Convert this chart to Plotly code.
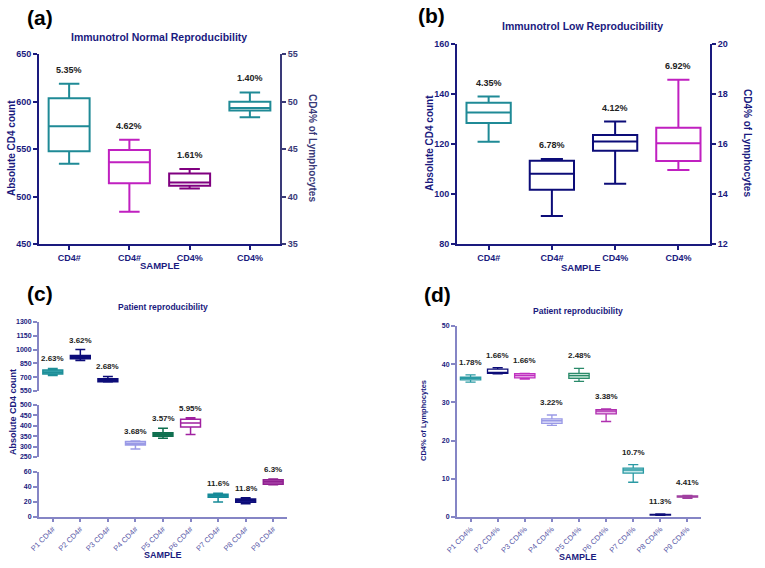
import plotly.graph_objects as go

# ---------------- data ----------------
# Panel (a): Immunotrol Normal
a_labels = ["CD4#", "CD4#", "CD4%", "CD4%"]
a_lower = [534.5, 484.0, 40.85, 48.33]
a_q1 = [547.7, 513.9, 41.14, 49.06]
a_median = [574.0, 536.0, 41.48, 49.32]
a_q3 = [603.4, 549.0, 42.43, 49.98]
a_upper = [618.7, 559.8, 42.90, 50.96]
a_cv = ["5.35%", "4.62%", "1.61%", "1.40%"]

# Panel (b): Immunotrol Low
b_labels = ["CD4#", "CD4#", "CD4%", "CD4%"]
b_lower = [120.9, 91.2, 14.41, 14.96]
b_q1 = [128.4, 101.7, 15.73, 15.32]
b_median = [132.6, 108.1, 16.10, 16.03]
b_q3 = [136.5, 113.3, 16.36, 16.65]
b_upper = [139.0, 114.0, 16.90, 18.57]
b_cv = ["4.35%", "6.78%", "4.12%", "6.92%"]

# Panel (c): Patient reproducibility, absolute CD4 count
c_labels = ["P1 CD4#", "P2 CD4#", "P3 CD4#", "P4 CD4#", "P5 CD4#",
            "P6 CD4#", "P7 CD4#", "P8 CD4#", "P9 CD4#"]
c_lower = [719, 882, 647, 289, 340, 358, 20.1, 17.5, 42.9]
c_q1 = [734, 900, 651, 308, 350, 394, 26.3, 19.7, 43.8]
c_median = [755, 918, 669, 314, 358, 413, 28.5, 22.3, 46.9]
c_q3 = [777, 936, 683, 324, 367, 431, 30.2, 24.1, 49.5]
c_upper = [795, 1001, 708, 327, 388, 439, 31.5, 25.8, 50.8]
c_cv = ["2.63%", "3.62%", "2.68%", "3.68%", "3.57%", "5.95%", "11.6%", "11.8%", "6.3%"]

# Panel (d): Patient reproducibility, CD4%
d_labels = ["P1 CD4%", "P2 CD4%", "P3 CD4%", "P4 CD4%", "P5 CD4%",
            "P6 CD4%", "P7 CD4%", "P8 CD4%", "P9 CD4%"]
d_lower = [35.3, 37.5, 36.1, 24.0, 35.5, 25.0, 9.1, 0.45, 4.9]
d_q1 = [35.9, 37.6, 36.4, 24.5, 36.3, 27.0, 11.5, 0.5, 5.2]
d_median = [36.3, 37.8, 37.0, 25.2, 37.0, 27.7, 12.3, 0.6, 5.4]
d_q3 = [36.6, 38.7, 37.5, 25.7, 37.6, 28.1, 12.8, 0.7, 5.5]
d_upper = [37.2, 39.1, 37.6, 26.7, 38.9, 28.3, 13.7, 0.8, 5.65]
d_cv = ["1.78%", "1.66%", "1.66%", "3.22%", "2.48%", "3.38%", "10.7%", "11.3%", "4.41%"]

# ---------------- styles ----------------
W, H = 765, 568
FONT = "Liberation Sans"
NAVY = "#1a1a7e"
LAV = "#8585c5"
TEAL = "#1f8a96"
MAG = "#c020c0"
PURP = "#800080"
DNAVY = "#0c0c78"


def px(x):
    return x / W


def py(y):
    return 1 - y / H


fig = go.Figure()


def add_box(xa, ya, pos, lo, q1, me, q3, up, lc, fc, width, lw):
    fig.add_trace(go.Box(
        x=[pos], lowerfence=[lo], q1=[q1], median=[me], q3=[q3], upperfence=[up],
        xaxis=xa, yaxis=ya, line=dict(color=lc, width=lw), fillcolor=fc,
        width=width, whiskerwidth=0.5, boxpoints=False, showlegend=False,
        hoverinfo="skip"))


def add_cv(xa, ya, pos, y, text, size, shift):
    fig.add_annotation(x=pos, y=y, xref=xa, yref=ya, text=text, showarrow=False,
                       yshift=shift, yanchor="bottom",
                       font=dict(family=FONT, size=size, color="#222222", weight="bold"))


# Panel (a)
a_axes = ["y", "y", "y2", "y2"]
a_colors = [(TEAL, "white"), (MAG, "white"), (PURP, "white"), (TEAL, "white")]
for i in range(4):
    add_box("x", a_axes[i], i, a_lower[i], a_q1[i], a_median[i], a_q3[i], a_upper[i],
            a_colors[i][0], a_colors[i][1], 0.68, 2)
    add_cv("x", a_axes[i], i, a_upper[i], a_cv[i], 9, 7)

# Panel (b)
b_axes = ["y3", "y3", "y4", "y4"]
b_colors = [(TEAL, "white"), (DNAVY, "white"), (DNAVY, "white"), (MAG, "white")]
for i in range(4):
    add_box("x2", b_axes[i], i, b_lower[i], b_q1[i], b_median[i], b_q3[i], b_upper[i],
            b_colors[i][0], b_colors[i][1], 0.7, 2)
    add_cv("x2", b_axes[i], i, b_upper[i], b_cv[i], 9, 7)

# Panel (c) - broken axis: top (y7), middle (y6), bottom (y5)
c_axes = ["y7", "y7", "y7", "y6", "y6", "y6", "y5", "y5", "y5"]
c_colors = [("#1e8e98", "#45b0b8"), (DNAVY, DNAVY), (DNAVY, DNAVY),
            ("#9a9ae6", "#c8c8f4"), ("#0e6e4e", "#1f8060"), ("#a020a0", "white"),
            ("#168a98", "#2aa0aa"), (DNAVY, "#1a1a90"), ("#902090", "#b050b0")]
for i in range(9):
    add_box("x3", c_axes[i], i, c_lower[i], c_q1[i], c_median[i], c_q3[i], c_upper[i],
            c_colors[i][0], c_colors[i][1], 0.72, 1.5)
    add_cv("x3", c_axes[i], i, c_upper[i], c_cv[i], 8, 3)

# Panel (d)
d_colors = [("#2a9aa4", "#a8dde0"), (DNAVY, "white"), ("#c030c0", "#f0c4f0"),
            ("#9a9ae6", "#e4e4fa"), ("#2a8a6a", "#c4e4d6"), ("#b030b0", "#e8b4e8"),
            ("#2a9aa4", "#c4e8ea"), (DNAVY, DNAVY), ("#a040a0", "#c070c0")]
for i in range(9):
    add_box("x4", "y8", i, d_lower[i], d_q1[i], d_median[i], d_q3[i], d_upper[i],
            d_colors[i][0], d_colors[i][1], 0.75, 1.3)
    add_cv("x4", "y8", i, d_upper[i], d_cv[i], 8, 6)


def yax(dom, rng, dtick, color, size, anchor, tickcolor=None, **kw):
    d = dict(domain=dom, range=rng, dtick=dtick, tick0=rng[0], showline=True,
             linecolor=color, linewidth=2, ticks="outside", ticklen=4, tickwidth=1.5,
             tickcolor=color, showgrid=False, zeroline=False, anchor=anchor,
             automargin=False,
             tickfont=dict(family=FONT, size=size, color=tickcolor or color, weight="bold"))
    d.update(kw)
    return d


def xax(dom, labels, color, size, anchor, angle=0, tcolor=None, bold=True, ticklen=4):
    return dict(domain=dom, range=[-0.5, len(labels) - 0.5], tickvals=list(range(len(labels))),
                ticktext=labels, showline=True, linecolor=color, linewidth=2,
                ticks="outside", ticklen=ticklen, tickwidth=1.5, tickcolor=color,
                showgrid=False, zeroline=False, anchor=anchor, tickangle=angle,
                automargin=False,
                tickfont=dict(family=FONT, size=size, color=tcolor or color,
                              weight="bold" if bold else "normal"))


fig.update_layout(
    template="none",
    width=W, height=H, margin=dict(l=0, r=0, t=0, b=0, autoexpand=False),
    paper_bgcolor="white", plot_bgcolor="white", showlegend=False,
    boxmode="overlay",
    xaxis=xax([px(39), px(280)], a_labels, NAVY, 9, "y"),
    yaxis=yax([py(244), py(54)], [450, 650], 50, NAVY, 9, "x"),
    yaxis2=yax([py(244), py(54)], [35, 55], 5, "#3a3a78", 9, "x", overlaying="y", side="right"),
    xaxis2=xax([px(457), px(710)], b_labels, NAVY, 9, "y3"),
    yaxis3=yax([py(244), py(44)], [80, 160], 20, NAVY, 9, "x2"),
    yaxis4=yax([py(244), py(44)], [12, 20], 2, NAVY, 9, "x2", overlaying="y3", side="right"),
    xaxis3=xax([px(39), px(287)], c_labels, LAV, 7.5, "y5", angle=-45, tcolor="#5a5aa8",
               bold=False, ticklen=3),
    yaxis5=yax([py(517), py(472)], [0, 60], 20, LAV, 7, "x3", tickcolor=NAVY),
    yaxis6=yax([py(457), py(405)], [250, 500], 50, LAV, 7, "x3", tickcolor=NAVY),
    yaxis7=yax([py(391), py(322)], [550, 1300], 150, LAV, 7, "x3", tickcolor=NAVY),
    xaxis4=xax([px(457), px(701)], d_labels, LAV, 7.5, "y8", angle=-45, tcolor="#5a5aa8",
               bold=False, ticklen=3),
    yaxis8=yax([py(517), py(326)], [0, 50], 10, LAV, 7, "x4", tickcolor=NAVY),
)


def text(x, y, s, size, color=NAVY, angle=0):
    fig.add_annotation(x=px(x), y=py(y), xref="paper", yref="paper", text=s,
                       showarrow=False, textangle=angle, xanchor="center", yanchor="middle",
                       font=dict(family=FONT, size=size, color=color, weight="bold"))


# panel letters
text(40, 18, "(a)", 21, "black")
text(431, 16, "(b)", 21, "black")
text(40, 293, "(c)", 21, "black")
text(437, 294, "(d)", 21, "black")
# titles
text(159, 37, "Immunotrol Normal Reproducibility", 10.5)
text(582, 26, "Immunotrol Low Reproducibility", 10.5)
text(163, 307, "Patient reproducibility", 8.5)
text(578, 311, "Patient reproducibility", 8.5)
# axis titles
text(160, 266, "SAMPLE", 9.5)
text(581, 267, "SAMPLE", 9.5)
text(163, 555, "SAMPLE", 9)
text(578, 557, "SAMPLE", 9)
text(11, 148, "Absolute CD4 count", 10, angle=-90)
text(313, 148, "CD4% of Lymphocytes", 10, color="#3a3a78", angle=90)
text(429, 143, "Absolute CD4 count", 10, angle=-90)
text(748, 143, "CD4% of Lymphocytes", 10, angle=90)
text(13, 412, "Absolute CD4 count", 9, angle=-90)
text(423, 421, "CD4% of Lymphocytes", 7.5, angle=-90)

fig.write_html("out.html", config={"displayModeBar": False},
               post_script="document.body.style.margin='0px';")
